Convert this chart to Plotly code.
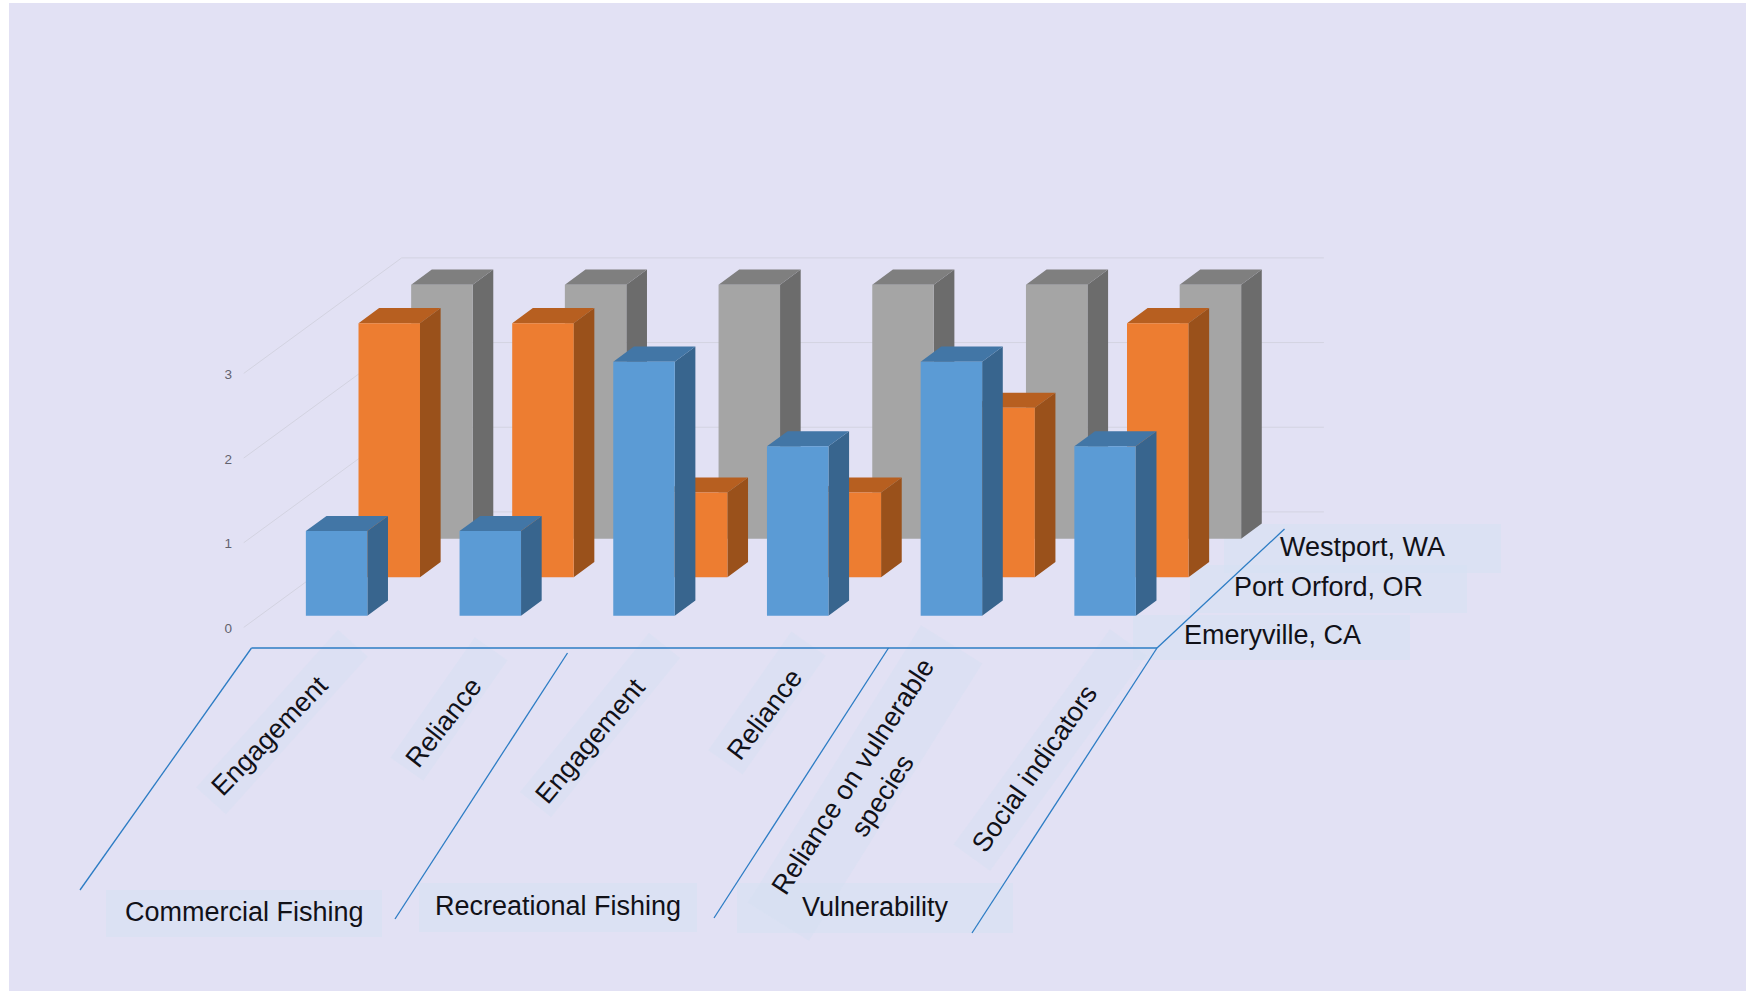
import math
import plotly.graph_objects as go

# Chart data
categories = ["Engagement", "Reliance", "Engagement", "Reliance",
              "Reliance on vulnerable<br>species", "Social indicators"]
groups = ["Commercial Fishing", "Recreational Fishing", "Vulnerability"]
locations = ["Emeryville, CA", "Port Orford, OR", "Westport, WA"]
emeryville = [1, 1, 3, 2, 3, 2]
port_orford = [3, 3, 1, 1, 2, 3]
westport = [3, 3, 3, 3, 3, 3]
value_ticks = [0, 1, 2, 3]

# Oblique projection: one series step of depth moves a point right and up
WIDTH, HEIGHT = 1746, 991
X_UNIT, Y_UNIT = 153.7, 84.67          # pixels per category / per value
ORIGIN_X, ORIGIN_Y = 336.6, 615.7      # pixel of category 0, value 0, depth 0
DEPTH_X, DEPTH_Y = 52.65 / X_UNIT, 38.5 / Y_UNIT
BAR_W, BAR_D = 0.4, 0.392
FLOOR_FRONT, FLOOR_BACK = -0.304, 2.696
PANEL_LEFT, PANEL_TOP = 9, 3


def project(cat, depth, value):
    return cat + depth * DEPTH_X, value + depth * DEPTH_Y


def to_axis(px, py):
    return (px - ORIGIN_X) / X_UNIT, (ORIGIN_Y - py) / Y_UNIT


def polygons(faces):
    xs, ys = [], []
    for face in faces:
        pts = [project(*p) for p in face]
        pts.append(pts[0])
        xs += [p[0] for p in pts] + [None]
        ys += [p[1] for p in pts] + [None]
    return xs, ys


fig = go.Figure()

# Wall and floor gridlines
grid_x, grid_y = [], []
for v in value_ticks:
    for p in [(-0.5, FLOOR_FRONT, v), (-0.5, FLOOR_BACK, v), (5.5, FLOOR_BACK, v)]:
        x, y = project(*p)
        grid_x.append(x)
        grid_y.append(y)
    grid_x.append(None)
    grid_y.append(None)
fig.add_trace(go.Scatter(x=grid_x, y=grid_y, mode="lines",
                         line=dict(color="#D3D3E1", width=1), hoverinfo="skip"))

# Bars, drawn from the back row to the front row
series = [
    (2, westport, "#A5A5A5", "#6C6C6C", "#7F7F7F"),
    (1, port_orford, "#ED7D31", "#9A511B", "#B75F20"),
    (0, emeryville, "#5B9BD5", "#38658E", "#4276A6"),
]
for depth, values, front_c, side_c, top_c in series:
    front, side, top = [], [], []
    for cat, v in enumerate(values):
        l, r = cat - BAR_W / 2, cat + BAR_W / 2
        d0, d1 = depth, depth + BAR_D
        front.append([(l, d0, 0), (r, d0, 0), (r, d0, v), (l, d0, v)])
        side.append([(r, d0, 0), (r, d1, 0), (r, d1, v), (r, d0, v)])
        top.append([(l, d0, v), (r, d0, v), (r, d1, v), (l, d1, v)])
    for faces, color in ((side, side_c), (top, top_c), (front, front_c)):
        xs, ys = polygons(faces)
        fig.add_trace(go.Scatter(x=xs, y=ys, mode="lines", fill="toself",
                                 fillcolor=color, line=dict(width=0),
                                 hoverinfo="skip"))

# Value axis labels sit just left of the slanted gridlines
tick_pos = [project(-0.5, FLOOR_FRONT, v) for v in value_ticks]
fig.add_trace(go.Scatter(
    x=[p[0] - 15.5 / X_UNIT for p in tick_pos],
    y=[p[1] - 2.3 / Y_UNIT for p in tick_pos],
    mode="text", text=[str(v) for v in value_ticks],
    textfont=dict(family="Liberation Sans", size=13.5, color="#62626E"),
    textposition="middle center", hoverinfo="skip"))

# Category and group separators
LINE_COLOR = "#2C7CC4"
separators = [
    ((251.5, 648), (1157, 648)),
    ((251.5, 648), (80, 890)),
    ((567.5, 653), (395, 919)),
    ((888.5, 648), (714, 918)),
    ((1157, 648), (972, 933)),
    ((1157, 648), (1284.5, 529)),
]
shapes = []
for a, b in separators:
    xa, ya = to_axis(*a)
    xb, yb = to_axis(*b)
    shapes.append(dict(type="line", x0=xa, y0=ya, x1=xb, y1=yb, xref="x", yref="y",
                       line=dict(color=LINE_COLOR, width=1.3), layer="above"))

# Pale label backgrounds
BOX_FILL = "#D5E1F2"


def box_path(corners):
    pts = [to_axis(*c) for c in corners]
    return "M " + " L ".join(f"{x:.4f},{y:.4f}" for x, y in pts) + " Z"


def rotated(cx, cy, length, width, angle):
    t = math.radians(angle)
    ux, uy = math.cos(t), -math.sin(t)
    vx, vy = math.sin(t), math.cos(t)
    out = []
    for sa, sb in ((-1, -1), (1, -1), (1, 1), (-1, 1)):
        out.append((cx + sa * length / 2 * ux + sb * width / 2 * vx,
                    cy + sa * length / 2 * uy + sb * width / 2 * vy))
    return out


flat_boxes = [(106, 890, 382, 937), (419, 883, 697, 932), (737, 883, 1013, 933),
              (1224, 524, 1501, 573), (1190, 565, 1467, 613), (1133, 615, 1410, 660)]
for x0, y0, x1, y1 in flat_boxes:
    shapes.append(dict(type="path", xref="x", yref="y", layer="below",
                       path=box_path([(x0, y0), (x1, y0), (x1, y1), (x0, y1)]),
                       fillcolor=BOX_FILL, opacity=0.55, line=dict(width=0)))
slanted_boxes = [(282, 722, 212, 40, 48), (449, 709, 147, 40, 55), (600, 725, 205, 40, 51),
                 (767, 703, 145, 42, 55), (865, 783, 327, 72, 58), (1050, 750, 266, 45, 54)]
for box in slanted_boxes:
    shapes.append(dict(type="path", xref="x", yref="y", layer="below",
                       path=box_path(rotated(*box)),
                       fillcolor=BOX_FILL, opacity=0.45, line=dict(width=0)))

# Text labels
annotations = []


def label(text, px, py, angle=0):
    x, y = to_axis(px, py)
    annotations.append(dict(text=text, x=x, y=y, xref="x", yref="y", showarrow=False,
                            textangle=-angle, xanchor="center", yanchor="middle",
                            font=dict(family="Liberation Sans", size=27, color="#111118")))


category_pos = [(269.5, 736), (443, 722.6), (590, 740.5), (764, 714.5), (867, 786), (1034, 768.5)]
category_angle = [46, 52, 50, 53, 57, 55]
for name, (px, py), ang in zip(categories, category_pos, category_angle):
    label(name, px, py, ang)
for name, (px, py) in zip(groups, [(244, 912), (558, 906), (875, 906.5)]):
    label(name, px, py)
for name, (px, py) in zip(locations, [(1272.5, 635), (1328, 587), (1362, 547)]):
    label(name, px, py)

x_lo, _ = to_axis(PANEL_LEFT, 0)
x_hi, _ = to_axis(WIDTH, 0)
_, y_hi = to_axis(0, PANEL_TOP)
_, y_lo = to_axis(0, HEIGHT)

fig.update_layout(
    width=WIDTH, height=HEIGHT, showlegend=False,
    margin=dict(l=PANEL_LEFT, r=0, t=PANEL_TOP, b=0, pad=0),
    paper_bgcolor="#FFFFFF", plot_bgcolor="#E2E1F4",
    xaxis=dict(range=[x_lo, x_hi], visible=False, fixedrange=True),
    yaxis=dict(range=[y_lo, y_hi], visible=False, fixedrange=True),
    shapes=shapes, annotations=annotations,
)

fig.write_html("out.html", config=dict(displayModeBar=False))
